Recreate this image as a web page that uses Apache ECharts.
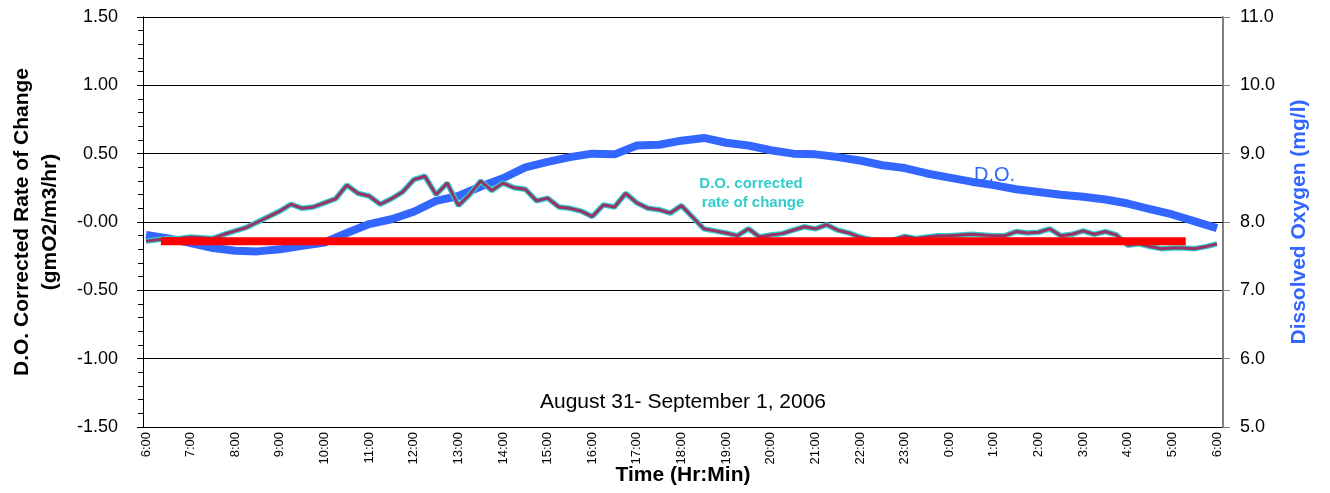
<!DOCTYPE html>
<html>
<head>
<meta charset="utf-8">
<script src="https://cdn.jsdelivr.net/npm/echarts@6/dist/echarts.min.js"></script>
<style>
html,body{margin:0;padding:0;background:#fff;}
#chart{width:1330px;height:493px;}
</style>
</head>
<body>
<div id="chart"></div>
<script>
// tick labels for the time axis (6:00 to 6:00 next day)
var hourLabels = ['6:00','7:00','8:00','9:00','10:00','11:00','12:00','13:00','14:00','15:00','16:00','17:00','18:00',
    '19:00','20:00','21:00','22:00','23:00','0:00','1:00','2:00','3:00','4:00','5:00','6:00'];

// D.O. corrected rate of change (gmO2/m3/hr), 15 min readings
var rateTimes = ['6:00','6:15','6:30','6:45','7:00','7:15','7:30','7:45','8:00','8:15','8:30','8:45',
    '9:00','9:15','9:30','9:45','10:00','10:15','10:30','10:45','11:00','11:15','11:30','11:45',
    '12:00','12:15','12:30','12:45','13:00','13:15','13:30','13:45','14:00','14:15','14:30','14:45',
    '15:00','15:15','15:30','15:45','16:00','16:15','16:30','16:45','17:00','17:15','17:30','17:45',
    '18:00','18:15','18:30','18:45','19:00','19:15','19:30','19:45','20:00','20:15','20:30','20:45',
    '21:00','21:15','21:30','21:45','22:00','22:15','22:30','22:45','23:00','23:15','23:30','23:45',
    '0:00','0:15','0:30','0:45','1:00','1:15','1:30','1:45','2:00','2:15','2:30','2:45',
    '3:00','3:15','3:30','3:45','4:00','4:15','4:30','4:45','5:00','5:15','5:30','5:45','6:00'];
var rateValues = [-0.14,-0.13,-0.12,-0.12,-0.11,-0.115,-0.12,-0.09,-0.065,-0.04,0.00,0.04,
    0.08,0.13,0.10,0.11,0.14,0.17,0.27,0.21,0.19,0.13,0.17,0.22,
    0.31,0.335,0.20,0.285,0.12,0.20,0.30,0.23,0.285,0.25,0.24,0.155,
    0.175,0.11,0.10,0.08,0.04,0.125,0.11,0.21,0.14,0.10,0.09,0.065,
    0.12,0.035,-0.05,-0.065,-0.08,-0.10,-0.05,-0.11,-0.095,-0.085,-0.06,-0.035,
    -0.05,-0.02,-0.06,-0.08,-0.11,-0.13,-0.135,-0.13,-0.105,-0.12,-0.11,-0.10,
    -0.10,-0.095,-0.09,-0.095,-0.10,-0.10,-0.07,-0.08,-0.075,-0.05,-0.10,-0.09,
    -0.065,-0.09,-0.07,-0.095,-0.17,-0.16,-0.18,-0.195,-0.19,-0.19,-0.195,-0.18,-0.16];

// Dissolved oxygen (mg/l), 30 min readings
var doTimes = ['6:00','6:30','7:00','7:30','8:00','8:30','9:00','9:30','10:00','10:30','11:00','11:30',
    '12:00','12:30','13:00','13:30','14:00','14:30','15:00','15:30','16:00','16:30','17:00','17:30',
    '18:00','18:30','19:00','19:30','20:00','20:30','21:00','21:30','22:00','22:30','23:00','23:30',
    '0:00','0:30','1:00','1:30','2:00','2:30','3:00','3:30','4:00','4:30','5:00','5:30','6:00'];
var doValues = [7.81,7.76,7.69,7.62,7.58,7.57,7.60,7.65,7.70,7.84,7.97,8.04,
    8.15,8.31,8.38,8.52,8.64,8.80,8.88,8.95,9.00,8.99,9.12,9.13,
    9.19,9.23,9.16,9.12,9.05,9.00,8.99,8.95,8.90,8.83,8.79,8.71,
    8.65,8.59,8.54,8.48,8.44,8.40,8.37,8.33,8.27,8.19,8.11,8.01,7.91];

// red reference line
var refTimes = ['6:20','5:18'];
var refValues = [-0.14,-0.14];

// clock string -> hours since 6:00, rolling over to the next day
function toHours(times) {
    var out = [], prev = -1;
    for (var i = 0; i < times.length; i++) {
        var p = times[i].split(':');
        var h = ((+p[0] - 6 + 24) % 24) + (+p[1]) / 60;
        while (h <= prev) h += 24;
        out.push(h);
        prev = h;
    }
    return out;
}
function pairs(times, values) {
    var hrs = toHours(times);
    return hrs.map(function (h, i) { return [h, values[i]]; });
}

var rateData = pairs(rateTimes, rateValues);
var doData = pairs(doTimes, doValues);
var refData = pairs(refTimes, refValues);

var FONT = 'Liberation Sans';
var chart = echarts.init(document.getElementById('chart'));

chart.setOption({
    animation: false,
    backgroundColor: '#fff',
    textStyle: {fontFamily: FONT},
    // grid 0: the plot frame (axes, gridlines); grid 1: the data area, a little inset
    grid: [
        {left: 143, right: 107, top: 17, bottom: 66},
        {left: 146, right: 113, top: 17, bottom: 66}
    ],
    xAxis: [{
        gridIndex: 0,
        type: 'value',
        min: 0,
        max: 1,
        name: 'Time (Hr:Min)',
        nameLocation: 'middle',
        nameGap: 38,
        nameTextStyle: {fontFamily: FONT, fontSize: 21, fontWeight: 'bold', color: '#000'},
        axisLine: {lineStyle: {color: '#000', width: 1}},
        axisTick: {show: false},
        axisLabel: {show: false},
        splitLine: {show: false}
    }, {
        gridIndex: 1,
        type: 'value',
        min: 0,
        max: 24,
        interval: 1,
        axisLine: {show: false},
        axisTick: {show: false},
        splitLine: {show: false},
        axisLabel: {
            rotate: 90,
            margin: 5,
            fontFamily: FONT,
            fontSize: 13,
            color: '#000',
            formatter: function (v) { return hourLabels[Math.round(v)]; }
        }
    }],
    yAxis: [{
        gridIndex: 0,
        type: 'value',
        position: 'left',
        min: -1.5,
        max: 1.5,
        interval: 0.5,
        name: 'D.O. Corrected Rate of Change\n(gmO2/m3/hr)',
        nameLocation: 'middle',
        nameRotate: 90,
        nameGap: 79,
        nameTextStyle: {fontFamily: FONT, fontSize: 21, fontWeight: 'bold', color: '#000', lineHeight: 28},
        axisLine: {show: true, lineStyle: {color: '#000', width: 1}},
        axisTick: {show: true, length: 6, lineStyle: {color: '#000'}},
        minorTick: {show: true, splitNumber: 5, length: 5, lineStyle: {color: '#000'}},
        splitLine: {show: true, lineStyle: {color: '#000', width: 1}},
        axisLabel: {
            fontFamily: FONT, fontSize: 18, color: '#000', margin: 25,
            formatter: function (v) { return Math.abs(v) < 1e-9 ? '-0.00' : v.toFixed(2); }
        }
    }, {
        gridIndex: 0,
        type: 'value',
        position: 'right',
        min: 5,
        max: 11,
        interval: 1,
        name: 'Dissolved Oxygen (mg/l)',
        nameLocation: 'middle',
        nameRotate: 90,
        nameGap: 66,
        nameTextStyle: {fontFamily: FONT, fontSize: 21, fontWeight: 'bold', color: '#3366FF'},
        axisLine: {show: true, lineStyle: {color: '#808080', width: 2}},
        axisTick: {show: true, length: 7, lineStyle: {color: '#808080'}},
        splitLine: {show: false},
        axisLabel: {
            fontFamily: FONT, fontSize: 18, color: '#000', margin: 17,
            formatter: function (v) { return v.toFixed(1); }
        }
    }, {
        gridIndex: 1,
        type: 'value',
        min: -1.5,
        max: 1.5,
        show: false
    }, {
        gridIndex: 1,
        type: 'value',
        min: 5,
        max: 11,
        show: false
    }],
    series: [{
        name: 'D.O.',
        type: 'line',
        xAxisIndex: 1,
        yAxisIndex: 3,
        data: doData,
        showSymbol: false,
        lineStyle: {color: '#3366FF', width: 8},
        z: 2
    }, {
        name: 'rate outline',
        type: 'line',
        xAxisIndex: 1,
        yAxisIndex: 2,
        data: rateData,
        showSymbol: false,
        lineStyle: {color: '#33CCCC', width: 5.5},
        z: 3
    }, {
        name: 'D.O. corrected rate of change',
        type: 'line',
        xAxisIndex: 1,
        yAxisIndex: 2,
        data: rateData,
        showSymbol: false,
        lineStyle: {color: '#993366', width: 3},
        z: 4
    }, {
        name: 'reference',
        type: 'line',
        xAxisIndex: 1,
        yAxisIndex: 2,
        data: refData,
        showSymbol: false,
        lineStyle: {color: '#FF0000', width: 8, cap: 'butt'},
        z: 5
    }],
    graphic: [{
        type: 'text',
        x: 683, y: 402,
        style: {text: 'August 31- September 1, 2006', font: '21px "Liberation Sans"', fill: '#000',
            textAlign: 'center', textVerticalAlign: 'middle'}
    }, {
        type: 'text',
        x: 751, y: 193,
        style: {text: 'D.O. corrected\n rate of change', font: 'bold 15px "Liberation Sans"', fill: '#33CCCC',
            textAlign: 'center', textVerticalAlign: 'middle', lineHeight: 19}
    }, {
        type: 'text',
        x: 974, y: 175,
        style: {text: 'D.O.', font: '20px "Liberation Sans"', fill: '#3366FF',
            textAlign: 'left', textVerticalAlign: 'middle'}
    }]
});
</script>
</body>
</html>
